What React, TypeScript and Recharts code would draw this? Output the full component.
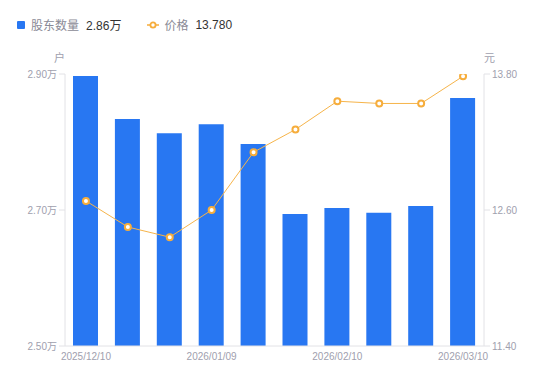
import React from 'react';
import { ComposedChart, Bar, Line, XAxis, YAxis } from 'recharts';

const dates = ['2025/12/10', '2025/12/20', '2025/12/31', '2026/01/09', '2026/01/20', '2026/01/30', '2026/02/10', '2026/02/20', '2026/02/27', '2026/03/10'];
const holders = [28970, 28340, 28130, 28260, 27970, 26940, 27030, 26960, 27060, 28646];
const prices = [12.68, 12.45, 12.36, 12.60, 13.11, 13.31, 13.56, 13.54, 13.54, 13.78];
const leftTicks = [25000, 27000, 29000];
const rightTicks = [11.4, 12.6, 13.8];

const data = dates.map((d, i) => ({ date: d, holders: holders[i], price: prices[i] }));

const FONT = '"Liberation Sans", Arial, "Noto Sans CJK SC", sans-serif';
const TICK = { fill: '#a0a0ae', fontSize: 10, fontFamily: FONT };
const AXIS = '#e2e2e6';

const Dot = (props: any) => {
  const { cx, cy } = props;
  if (cx == null || cy == null) return null;
  return <circle cx={cx} cy={cy} r={3} fill="#fff" stroke="#f6ad3c" strokeWidth={2} />;
};

export default function App() {
  const last = data[data.length - 1];
  return (
    <div style={{ position: 'absolute', left: 0, top: 0, width: 550, height: 381, fontFamily: FONT, background: '#fff' }}>
      <div style={{ position: 'absolute', left: 17, top: 16, display: 'flex', alignItems: 'center', fontSize: 12, whiteSpace: 'nowrap' }}>
        <span style={{ width: 8, height: 8, background: '#2877f2', borderRadius: 1, display: 'inline-block' }} />
        <span style={{ color: '#8a8a96', marginLeft: 6 }}>股东数量</span>
        <span style={{ color: '#333', marginLeft: 7 }}>{(last.holders / 10000).toFixed(2)}万</span>
        <svg width={12} height={10} style={{ marginLeft: 26 }}>
          <line x1={0} y1={5} x2={12} y2={5} stroke="#f6ad3c" strokeWidth={1.5} />
          <circle cx={6} cy={5} r={2.6} fill="#fff" stroke="#f6ad3c" strokeWidth={1.8} />
        </svg>
        <span style={{ color: '#8a8a96', marginLeft: 5 }}>价格</span>
        <span style={{ color: '#333', marginLeft: 7 }}>{last.price.toFixed(3)}</span>
      </div>
      <span style={{ position: 'absolute', left: 54, top: 49, fontSize: 11, color: '#a0a0ae' }}>户</span>
      <span style={{ position: 'absolute', left: 484, top: 49, fontSize: 11, color: '#a0a0ae' }}>元</span>
      <ComposedChart width={550} height={381} data={data} margin={{ top: 74, right: 0, bottom: 15, left: 0 }} barCategoryGap="20%">
        <XAxis dataKey="date" interval={2} tickLine={false} tickSize={0} tickMargin={7} axisLine={{ stroke: AXIS }} tick={TICK} height={20} />
        <YAxis yAxisId="l" domain={[25000, 29000]} ticks={leftTicks} width={65} tickSize={6} tickMargin={2}
          axisLine={{ stroke: AXIS }} tickLine={{ stroke: AXIS }} tick={TICK}
          tickFormatter={(v: number) => (v / 10000).toFixed(2) + '万'} allowDataOverflow />
        <YAxis yAxisId="r" orientation="right" domain={[11.4, 13.8]} ticks={rightTicks} width={66} tickSize={6} tickMargin={2}
          axisLine={{ stroke: AXIS }} tickLine={{ stroke: AXIS }} tick={TICK}
          tickFormatter={(v: number) => v.toFixed(2)} allowDataOverflow />
        <Bar yAxisId="l" dataKey="holders" fill="#2877f2" barSize={25} isAnimationActive={false} />
        <Line yAxisId="r" dataKey="price" stroke="#f6b44a" strokeWidth={1} dot={<Dot />} activeDot={false} isAnimationActive={false} />
      </ComposedChart>
    </div>
  );
}
